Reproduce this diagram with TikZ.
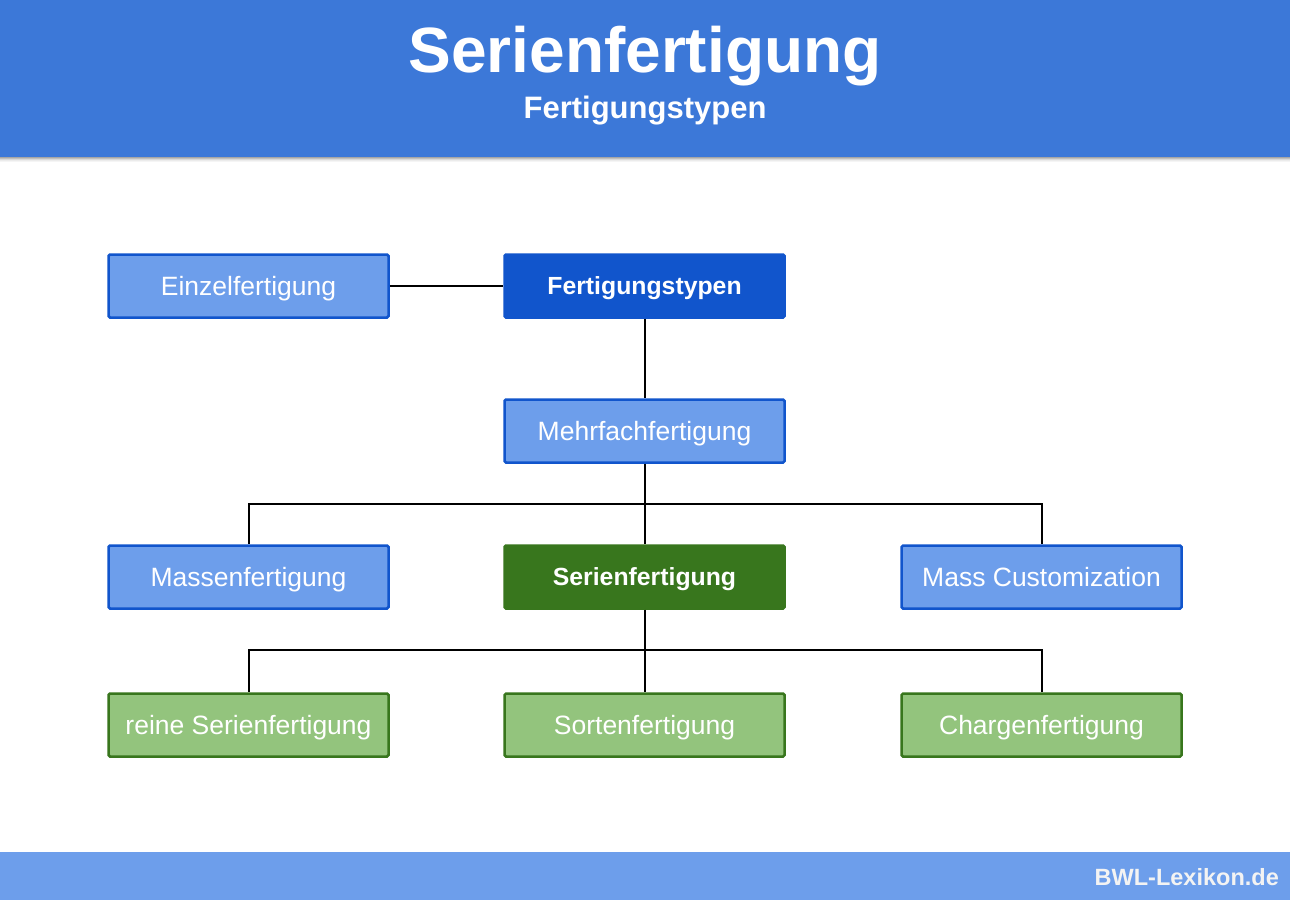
\documentclass[tikz,border=0pt]{standalone}
\usepackage{fontspec}
\setmainfont{Liberation Sans}
\definecolor{hdr}{HTML}{3C78D8}
\definecolor{ftr}{HTML}{6D9EEB}
\definecolor{lblue}{HTML}{6D9EEB}
\definecolor{dblue}{HTML}{1155CC}
\definecolor{dgreen}{HTML}{38761D}
\definecolor{lgreen}{HTML}{93C47D}
\definecolor{ftxt}{HTML}{F3F3F3}
\tikzset{
  box/.style={rectangle, rounded corners=1.5pt, line width=2.5pt, minimum width=280pt, minimum height=63pt, inner sep=0pt, text=white, font=\fontsize{26.5}{30}\selectfont, text height=19pt, text depth=0pt},
  bluebox/.style={box, fill=lblue, draw=dblue},
  topbox/.style={box, fill=dblue, draw=dblue, font=\fontsize{24.8}{30}\selectfont\bfseries, text height=17.8pt},
  serbox/.style={box, fill=dgreen, draw=dgreen, font=\fontsize{24.8}{30}\selectfont\bfseries, text height=17.8pt},
  greenbox/.style={box, fill=lgreen, draw=dgreen},
  conn/.style={line width=2pt, black},
}
\begin{document}
\begin{tikzpicture}[x=1pt,y=-1pt]
\useasboundingbox (0,0) rectangle (1290,900);
\fill[white] (0,0) rectangle (1290,900);
% header with shadow
\foreach \i/\o in {1/0.35,2/0.25,3/0.15,4/0.08,5/0.04}{
  \fill[black,opacity=\o] (0,157+\i-1) rectangle (1290,157+\i);
}
\fill[hdr] (0,0) rectangle (1290,157);
\node[text=white, font=\fontsize{64}{70}\selectfont\bfseries, text height=45.8pt, text depth=0pt, inner sep=0pt] (title) at (645,50) {Serienfertigung};
\node[text=white, font=\fontsize{31}{36}\selectfont\bfseries, text height=22.2pt, text depth=0pt, inner sep=0pt] (sub) at (645,107) {Fertigungstypen};
% footer
\fill[ftr] (0,852) rectangle (1290,900);
\node[anchor=east, text=ftxt, font=\fontsize{23.5}{28}\selectfont\bfseries, text height=16.8pt, text depth=0pt, inner sep=0pt] (foot) at (1279,877) {BWL-Lexikon.de};
% nodes
\node[bluebox] (einzel) at (248.5,286) {Einzelfertigung};
\node[topbox] (typen) at (644.5,286) {Fertigungstypen};
\node[bluebox] (mehr) at (644.5,431) {Mehrfachfertigung};
\node[bluebox] (massen) at (248.5,577) {Massenfertigung};
\node[serbox] (serien) at (644.5,577) {Serienfertigung};
\node[bluebox] (mc) at (1041.5,577) {Mass Customization};
\node[greenbox] (reine) at (248.5,725) {reine Serienfertigung};
\node[greenbox] (sorten) at (644.5,725) {Sortenfertigung};
\node[greenbox] (charge) at (1041.5,725) {Chargenfertigung};
% connectors
\draw[conn] (einzel.east) -- (typen.west);
\draw[conn] (typen.south) -- (mehr.north);
\draw[conn] (mehr.south) -- (serien.north);
\draw[conn] (mehr.south) -- ++(0,40) -| (massen.north);
\draw[conn] (mehr.south) -- ++(0,40) -| (mc.north);
\draw[conn] (serien.south) -- (sorten.north);
\draw[conn] (serien.south) -- ++(0,40) -| (reine.north);
\draw[conn] (serien.south) -- ++(0,40) -| (charge.north);
\end{tikzpicture}
\end{document}
